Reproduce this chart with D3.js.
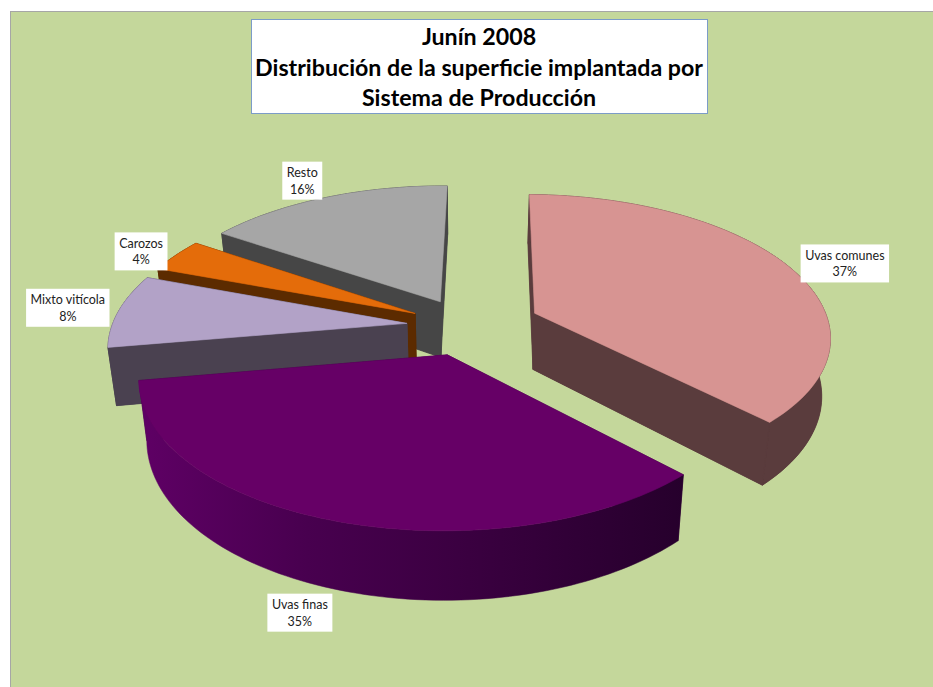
<!DOCTYPE html>
<html lang="es"><head><meta charset="utf-8">
<script src="https://cdn.jsdelivr.net/npm/d3@7/dist/d3.min.js"></script>
<style>html,body{margin:0;padding:0;background:#fff;overflow:hidden}svg{display:block}</style>
</head><body><div id="chart"></div>
<script>
const titleLines = ["Junín 2008", "Distribución de la superficie implantada por", "Sistema de Producción"];
const categories = ["Uvas comunes", "Uvas finas", "Mixto vitícola", "Carozos", "Resto"];
const values = [37.49, 34.6, 8.3, 3.8, 15.81];
const topColors = ["#D79492", "#660066", "#B2A2C7", "#E46C0A", "#A6A6A6"];
const wallColors = ["#5A3C3D", "#38003E", "#4A4150", "#5C2B00", "#464646"];

const W = 933, H = 687;
const cx = 467, cy = 326, Rx = 295, Ry = 140, persp = 0.15, depth = 57, shrink = 0.976;
const explodeByIdx = [0.25, 0.21, 0.205, 0.2, 0.2];
const startDeg = 0.8;
const labelOffset = [[57.5,-2],[-33.5,92],[-51,-3],[-34.5,-4],[-23,-17]];
const drawOrder = [4, 3, 2, 0, 1];

const svg = d3.select("#chart").append("svg").attr("width", W).attr("height", H);
const defs = svg.append("defs");
const grad = defs.append("linearGradient").attr("id","finasWall").attr("gradientUnits","userSpaceOnUse")
  .attr("x1",145).attr("x2",685).attr("y1",0).attr("y2",0);
[[0,"#5E0064"],[0.3,"#48004F"],[0.6,"#3A0040"],[1,"#26002C"]].forEach(s=>grad.append("stop").attr("offset",s[0]).attr("stop-color",s[1]));

svg.append("rect").attr("x",10.5).attr("y",11.5).attr("width",W).attr("height",H).attr("fill","#C4D79B").attr("stroke","#A6A6A6");

const start = startDeg * Math.PI / 180;
const arcs = d3.pie().sort(null).startAngle(start).endAngle(start + 2 * Math.PI)(values);

const xScale = d3.scaleLinear().domain([0,1]).range([cx, cx + Rx]);
function proj(X, Z, bottom) {
  const w = 1 - persp * Z;
  let sx = xScale(X / w), sy = cy + Ry * Z / w;
  if (bottom) { sx = cx + (sx - cx) * shrink; sy += depth / w; }
  return [sx, sy];
}
const line = d3.line();
const closed = pts => line(pts) + "Z";

function slice(i) {
  const a = arcs[i], mid = (a.startAngle + a.endAngle) / 2, e = explodeByIdx[i];
  const X0 = e * Math.sin(mid), Z0 = -e * Math.cos(mid);
  const rim = th => [X0 + Math.sin(th), Z0 - Math.cos(th)];
  const n = Math.max(8, Math.round((a.endAngle - a.startAngle) * 40));
  const ths = d3.range(n + 1).map(k => a.startAngle + (a.endAngle - a.startAngle) * k / n);
  return {X0, Z0, rim, ths, mid};
}

const g = svg.append("g");
drawOrder.forEach(i => {
  const s = slice(i);
  const apexT = proj(s.X0, s.Z0, false), apexB = proj(s.X0, s.Z0, true);
  const topRim = s.ths.map(t => { const p = s.rim(t); return proj(p[0], p[1], false); });
  const botRim = s.ths.map(t => { const p = s.rim(t); return proj(p[0], p[1], true); });
  const col = wallColors[i];
  const radial = [[topRim[0], botRim[0]], [topRim[topRim.length-1], botRim[botRim.length-1]]]
    .map(e => closed([apexT, e[0], e[1], apexB])).join("");
  const outer = closed(topRim.concat(botRim.slice().reverse()));
  if (i === 1) {
    g.append("path").attr("d", radial).attr("fill", col).attr("stroke", col).attr("stroke-width", .5);
    g.append("path").attr("d", outer).attr("fill", "url(#finasWall)").attr("stroke", "url(#finasWall)").attr("stroke-width", .5);
  } else {
    g.append("path").attr("d", radial + outer).attr("fill", col).attr("fill-rule", "nonzero").attr("stroke", "none");
    g.append("path").attr("d", outer).attr("fill", col).attr("stroke", col).attr("stroke-width", .8);
    g.append("path").attr("d", radial).attr("fill", col).attr("stroke", col).attr("stroke-width", .8);
  }
  g.append("path").attr("d", closed([apexT].concat(topRim))).attr("fill", topColors[i]).attr("stroke", topColors[i]).attr("stroke-width", .6);
});

svg.append("rect").attr("x",251.5).attr("y",19.5).attr("width",456).attr("height",94).attr("fill","#fff").attr("stroke","#7C9CC8");
svg.append("g").selectAll("text").data(titleLines).join("text")
  .attr("x",479).attr("y",(d,i)=>45+i*30.5).attr("text-anchor","middle")
  .attr("font-family","Lato, 'Open Sans', sans-serif").attr("font-weight",700).attr("font-size",23.2).attr("fill","#000")
  .text(d=>d);

const lg = svg.append("g");
categories.forEach((c,i) => {
  const s = slice(i), p = s.rim(s.mid), q = proj(p[0], p[1], false);
  const lx = q[0] + labelOffset[i][0], ly = q[1] + labelOffset[i][1];
  const node = lg.append("g");
  const r = node.append("rect").attr("fill","#fff");
  const t = node.append("text").attr("text-anchor","middle").attr("font-family","Lato, sans-serif").attr("font-size",12.5).attr("fill","#222");
  t.append("tspan").attr("x",lx).attr("y",ly-3.5).text(c);
  t.append("tspan").attr("x",lx).attr("y",ly+13).text(d3.format(".0f")(values[i])+"%");
  const b = t.node().getBBox();
  r.attr("x",b.x-4.5).attr("y",ly-19).attr("width",b.width+9).attr("height",38);
});
</script></body></html>
